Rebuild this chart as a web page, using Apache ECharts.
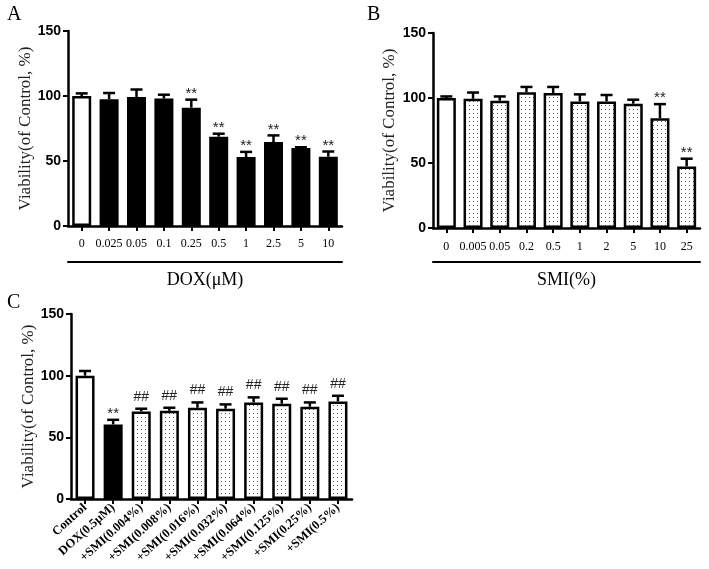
<!DOCTYPE html>
<html>
<head>
<meta charset="utf-8">
<script src="https://cdn.jsdelivr.net/npm/echarts@6/dist/echarts.min.js"></script>
<style>
  html, body { margin: 0; padding: 0; background: #fff; }
  #main { width: 709px; height: 569px; }
</style>
</head>
<body>
<div id="main"></div>
<script>
// panel A - DOX dose
const doxLabels = ['0', '0.025', '0.05', '0.1', '0.25', '0.5', '1', '2.5', '5', '10'];
const doxMeans = [100, 97.5, 99.2, 98, 91, 68.7, 53, 64.6, 60, 53.3];
const doxErr = [2, 4.8, 5.8, 3, 6.2, 2.3, 4, 5.1, 0.6, 4];
const doxSig = ['', '', '', '', '**', '**', '**', '**', '**', '**'];

// panel B - SMI dose
const smiLabels = ['0', '0.005', '0.05', '0.2', '0.5', '1', '2', '5', '10', '25'];
const smiMeans = [100, 99.4, 97.9, 104.5, 103.8, 97.4, 97.4, 95.6, 84.5, 47.4];
const smiErr = [1.2, 4.8, 3.3, 4, 4.7, 5.4, 4.9, 3.1, 10.8, 5.9];
const smiSig = ['', '', '', '', '', '', '', '', '**', '**'];

// panel C - DOX + SMI
const comboLabels = ['Control', 'DOX(0.5μM)', '+SMI(0.004%)', '+SMI(0.008%)', '+SMI(0.016%)',
  '+SMI(0.032%)', '+SMI(0.064%)', '+SMI(0.125%)', '+SMI(0.25%)', '+SMI(0.5%)'];
const comboMeans = [100, 60.5, 71, 71.5, 74, 73.2, 78.3, 77.3, 74.8, 79.1];
const comboErr = [3.8, 3.7, 2.2, 2.5, 4.3, 3.5, 4.1, 4, 3.5, 4.6];
const comboSig = ['', '**', '##', '##', '##', '##', '##', '##', '##', '##'];

const yTicks = [0, 50, 100, 150];

const serif = 'Liberation Serif';
const sans = 'Liberation Sans';

// dotted fill
const pat = document.createElement('canvas');
pat.width = 4; pat.height = 4;
const pctx = pat.getContext('2d');
pctx.fillStyle = '#fff';
pctx.fillRect(0, 0, 4, 4);
pctx.fillStyle = '#5a5a5a';
pctx.fillRect(1, 1, 1, 1);
const dotted = { image: pat, repeat: 'repeat' };

function barItems(means, fillFn) {
  return means.map((v, i) => ({
    value: v,
    itemStyle: { color: fillFn(i), borderColor: '#000', borderWidth: 2.5 }
  }));
}

function errSeries(means, errs, sigs, idx) {
  return {
    type: 'custom',
    xAxisIndex: idx.x,
    yAxisIndex: idx.y,
    z: 5,
    clip: false,
    data: means.map((m, i) => [i, m, errs[i]]),
    renderItem: function (params, api) {
      const i = api.value(0), m = api.value(1), e = api.value(2);
      const base = api.coord([i, m]);
      const top = api.coord([i, m + e]);
      const s = sigs[params.dataIndex];
      const children = [
        { type: 'line', shape: { x1: base[0], y1: base[1], x2: top[0], y2: top[1] },
          style: { stroke: '#000', lineWidth: 2.5 } },
        { type: 'line', shape: { x1: top[0] - 6, y1: top[1], x2: top[0] + 6, y2: top[1] },
          style: { stroke: '#000', lineWidth: 2.5 } }
      ];
      if (s) {
        children.push({
          type: 'text',
          style: {
            text: s, x: top[0], y: top[1] - (s === '**' ? 6 : 12),
            align: 'center', verticalAlign: 'middle',
            font: (s === '**' ? '15px ' : '14px ') + sans, fill: '#222'
          }
        });
      }
      return { type: 'group', children: children };
    }
  };
}

function yAxis(grid, gap) {
  return {
    type: 'value', gridIndex: grid, min: 0, max: 150, interval: 50,
    name: 'Viability(of Control, %)', nameLocation: 'middle', nameGap: gap,
    nameTextStyle: { fontFamily: serif, fontSize: 17, color: '#222' },
    axisLine: { show: true, lineStyle: { color: '#000', width: 2.5 } },
    axisTick: { show: true, length: 5, lineStyle: { color: '#000', width: 2 } },
    axisLabel: {
      margin: 7, fontFamily: sans, fontWeight: 'bold', fontSize: 14, color: '#000',
      formatter: v => yTicks.includes(v) ? String(v) : ''
    },
    splitLine: { show: false }
  };
}

function catAxis(grid, labels, label) {
  return {
    type: 'category', gridIndex: grid, data: labels,
    axisLine: { show: true, onZero: false, lineStyle: { color: '#000', width: 2.5 } },
    axisTick: { show: true, alignWithLabel: true, length: 5, lineStyle: { color: '#000', width: 2 } },
    axisLabel: Object.assign({ margin: 12, fontFamily: serif, fontSize: 12, color: '#000', interval: 0, hideOverlap: false }, label || {})
  };
}

function underAxis(grid, labels, name, offset) {
  return {
    type: 'category', gridIndex: grid, data: labels, position: 'bottom', offset: offset,
    name: name, nameLocation: 'middle', nameGap: 9, nameMoveOverlap: false,
    nameTextStyle: { fontFamily: serif, fontSize: 18, color: '#000' },
    axisLine: { show: true, onZero: false, lineStyle: { color: '#000', width: 2 } },
    axisTick: { show: false },
    axisLabel: { show: false }
  };
}

const chart = echarts.init(document.getElementById('main'));

chart.setOption({
  backgroundColor: '#fff',
  animation: false,
  title: [
    { text: 'A', left: 2, top: 0, textStyle: { fontFamily: serif, fontSize: 20, fontWeight: 'normal', color: '#000' } },
    { text: 'B', left: 362, top: 0, textStyle: { fontFamily: serif, fontSize: 20, fontWeight: 'normal', color: '#000' } },
    { text: 'C', left: 2, top: 288, textStyle: { fontFamily: serif, fontSize: 20, fontWeight: 'normal', color: '#000' } }
  ],
  grid: [
    { left: 68, top: 31, width: 274, height: 195, containLabel: false, outerBoundsMode: 'none' },
    { left: 433, top: 33, width: 267, height: 195, containLabel: false, outerBoundsMode: 'none' },
    { left: 71, top: 314, width: 281, height: 185, containLabel: false, outerBoundsMode: 'none' }
  ],
  xAxis: [
    catAxis(0, doxLabels),
    catAxis(1, smiLabels, { margin: 13 }),
    catAxis(2, comboLabels, { margin: 7, rotate: 42, fontWeight: 'bold', fontSize: 12.5 }),
    underAxis(0, doxLabels, 'DOX(μM)', 36),
    underAxis(1, smiLabels, 'SMI(%)', 34)
  ],
  yAxis: [yAxis(0, 31), yAxis(1, 35), yAxis(2, 34)],
  series: [
    { type: 'bar', xAxisIndex: 0, yAxisIndex: 0, barWidth: 19,
      data: barItems(doxMeans, i => i === 0 ? '#fff' : '#000') },
    { type: 'bar', xAxisIndex: 1, yAxisIndex: 1, barWidth: 19,
      data: barItems(smiMeans, i => i === 0 ? '#fff' : dotted) },
    { type: 'bar', xAxisIndex: 2, yAxisIndex: 2, barWidth: 19,
      data: barItems(comboMeans, i => i === 0 ? '#fff' : (i === 1 ? '#000' : dotted)) },
    errSeries(doxMeans, doxErr, doxSig, { x: 0, y: 0 }),
    errSeries(smiMeans, smiErr, smiSig, { x: 1, y: 1 }),
    errSeries(comboMeans, comboErr, comboSig, { x: 2, y: 2 })
  ]
});
</script>
</body>
</html>
